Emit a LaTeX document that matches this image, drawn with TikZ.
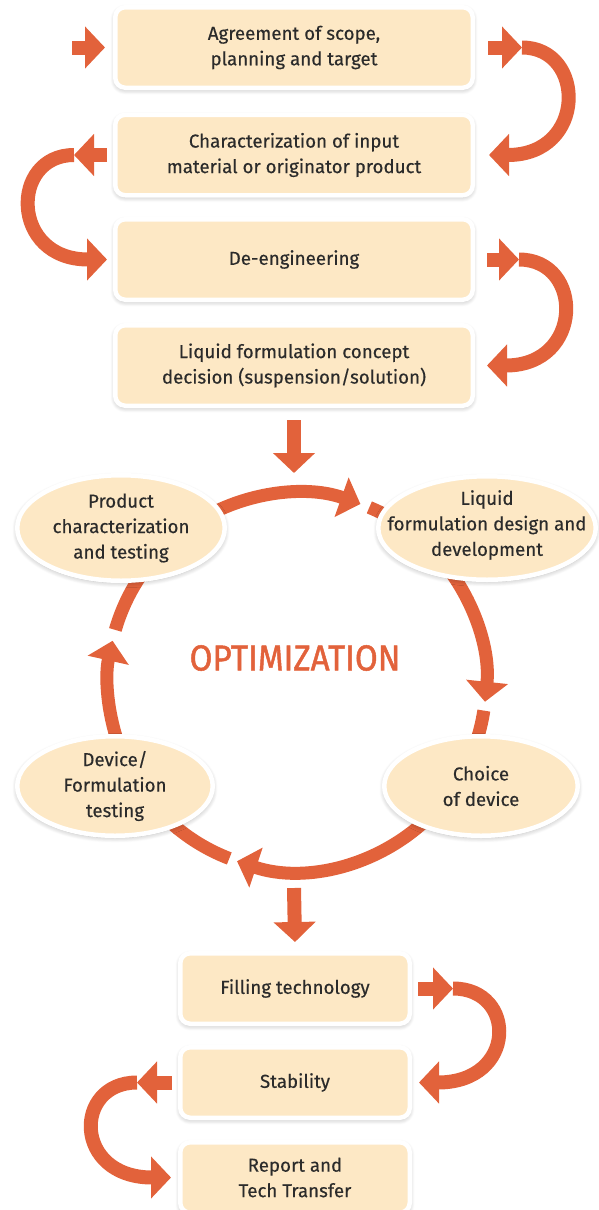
\documentclass[tikz,border=0pt]{standalone}
\usepackage{fontspec}
\setmainfont{Fira Sans}
\newfontfamily\medfont{Fira Sans}[FakeBold=0.35]
\newfontfamily\headfont{Fira Sans}[FakeBold=1.4]
\usetikzlibrary{arrows.meta,shapes.geometric,shadows.blur}
\definecolor{orng}{HTML}{E2623B}
\definecolor{peach}{HTML}{FDE8C5}
\definecolor{ink}{HTML}{2B2B2B}
\begin{document}
\begin{tikzpicture}[x=1pt,y=1pt,
    txt/.style={align=center,text=ink,font=\medfont\fontsize{18.7}{25.5}\selectfont},
    sh/.style={blur shadow={shadow xshift=0pt,shadow yshift=-2pt,shadow opacity=30,
      shadow blur steps=8,shadow blur radius=5pt,shadow blur extra rounding=2pt}},
    box/.style={txt,sh,draw=white,line width=4.5pt,fill=peach,rounded corners=10pt,
      minimum width=357.5pt,minimum height=80.5pt},
    sbox/.style={box,minimum width=229.5pt,minimum height=70.5pt},
    oval/.style={sh,ellipse,draw=white,line width=4.5pt,fill=peach,inner sep=0pt},
    blk/.style={draw=orng,line width=14pt,-{Triangle[width=41pt,length=20pt]}},
    ring/.style={draw=orng,line width=13pt}]
  \useasboundingbox (0,0) rectangle (598,-1210);
  \path
    (294,-47.5) node[box] (scope) {Agreement of scope,\\planning and target}
    (294,-155) node[box] (input) {Characterization of input\\material or originator product}
    (294,-259.5) node[box] (deeng) {De-engineering}
    (294,-365.5) node[box] (concept) {Liquid formulation concept\\decision (suspension/solution)}
    (295,-988.5) node[sbox] (fill) {Filling technology}
    (295,-1082.5) node[sbox] (stab) {Stability}
    (295,-1177.5) node[sbox] (report) {Report and\\Tech Transfer};
  \coordinate (cyc) at (297,-682);
  \begin{scope}[ring]
    \draw[-{Triangle[width=41pt,length=20pt]}] ([shift={(120:189)}]cyc) arc[start angle=120,end angle=70.4,radius=189];
    \draw ([shift={(67.5:189)}]cyc) arc[start angle=67.5,end angle=55,radius=189];
    \draw[-{Triangle[width=41pt,length=20pt]}] ([shift={(40:189)}]cyc) arc[start angle=40,end angle=-6,radius=189];
    \draw ([shift={(-8.7:189)}]cyc) arc[start angle=-8.7,end angle=-30,radius=189];
    \draw[-{Triangle[width=41pt,length=20pt]}] ([shift={(-45:189)}]cyc) arc[start angle=-45,end angle=-108.5,radius=189];
    \draw ([shift={(-111:189)}]cyc) arc[start angle=-111,end angle=-135,radius=189];
    \draw[-{Triangle[width=41pt,length=20pt]}] ([shift={(200:189)}]cyc) arc[start angle=200,end angle=167.4,radius=189];
    \draw ([shift={(164:189)}]cyc) arc[start angle=164,end angle=135,radius=189];
  \end{scope}
  \path
    (121,-528) node[oval,minimum width=207.5pt,minimum height=105.5pt,
      label={[txt]center:Product\\characterization\\and testing}] (prodchar) {}
    (487,-528) node[oval,minimum width=217.5pt,minimum height=103.5pt,
      label={[txt,yshift=3pt]center:Liquid\\formulation design and\\development}] (design) {}
    (481,-786) node[oval,minimum width=193.5pt,minimum height=99.5pt,
      label={[txt]center:Choice\\of device}] (device) {}
    (115,-786) node[oval,minimum width=195.5pt,minimum height=99.5pt,
      label={[txt]center:Device/\\Formulation\\testing}] (devtest) {};
  \node[text=orng,font=\headfont\fontsize{36}{40}\selectfont] (opt) at (295,-658) {\scalebox{0.92}[1]{OPTIMIZATION}};
  \coordinate (entry) at (72,-47.5);
  \coordinate (ctop) at (294,-473);
  \coordinate (cbot) at (294,-888);
  \begin{scope}[blk]
    \draw (entry) -- ([xshift=-8pt]scope.west);
    \draw ([xshift=13pt]scope.east) -- ([xshift=47pt]scope.east) coordinate (r1);
    \draw (r1) .. controls +(64,0) and +(98,0) .. ([xshift=14pt]input.east);
    \draw ([xshift=-6pt]input.west) -- ([xshift=-39pt]input.west) coordinate (l1);
    \draw (l1) .. controls +(-64,0) and +(-97,0) .. ([xshift=-6pt]deeng.west);
    \draw ([xshift=12pt]deeng.east) -- ([xshift=44pt]deeng.east) coordinate (r2);
    \draw (r2) .. controls +(65,0) and +(97,0) .. ([xshift=12pt]concept.east);
    \draw ([yshift=-12pt]concept.south) -- (ctop);
    \draw (cbot) -- ([yshift=9pt]fill.north);
    \draw ([xshift=6pt]fill.east) -- ([xshift=41pt]fill.east) coordinate (r3);
    \draw (r3) .. controls +(64,0) and +(98,0) .. ([xshift=7pt]stab.east);
    \draw ([xshift=-6pt]stab.west) -- ([xshift=-41pt]stab.west) coordinate (l2);
    \draw (l2) .. controls +(-64,0) and +(-98,0) .. ([xshift=-7pt]report.west);
  \end{scope}
\end{tikzpicture}
\end{document}
